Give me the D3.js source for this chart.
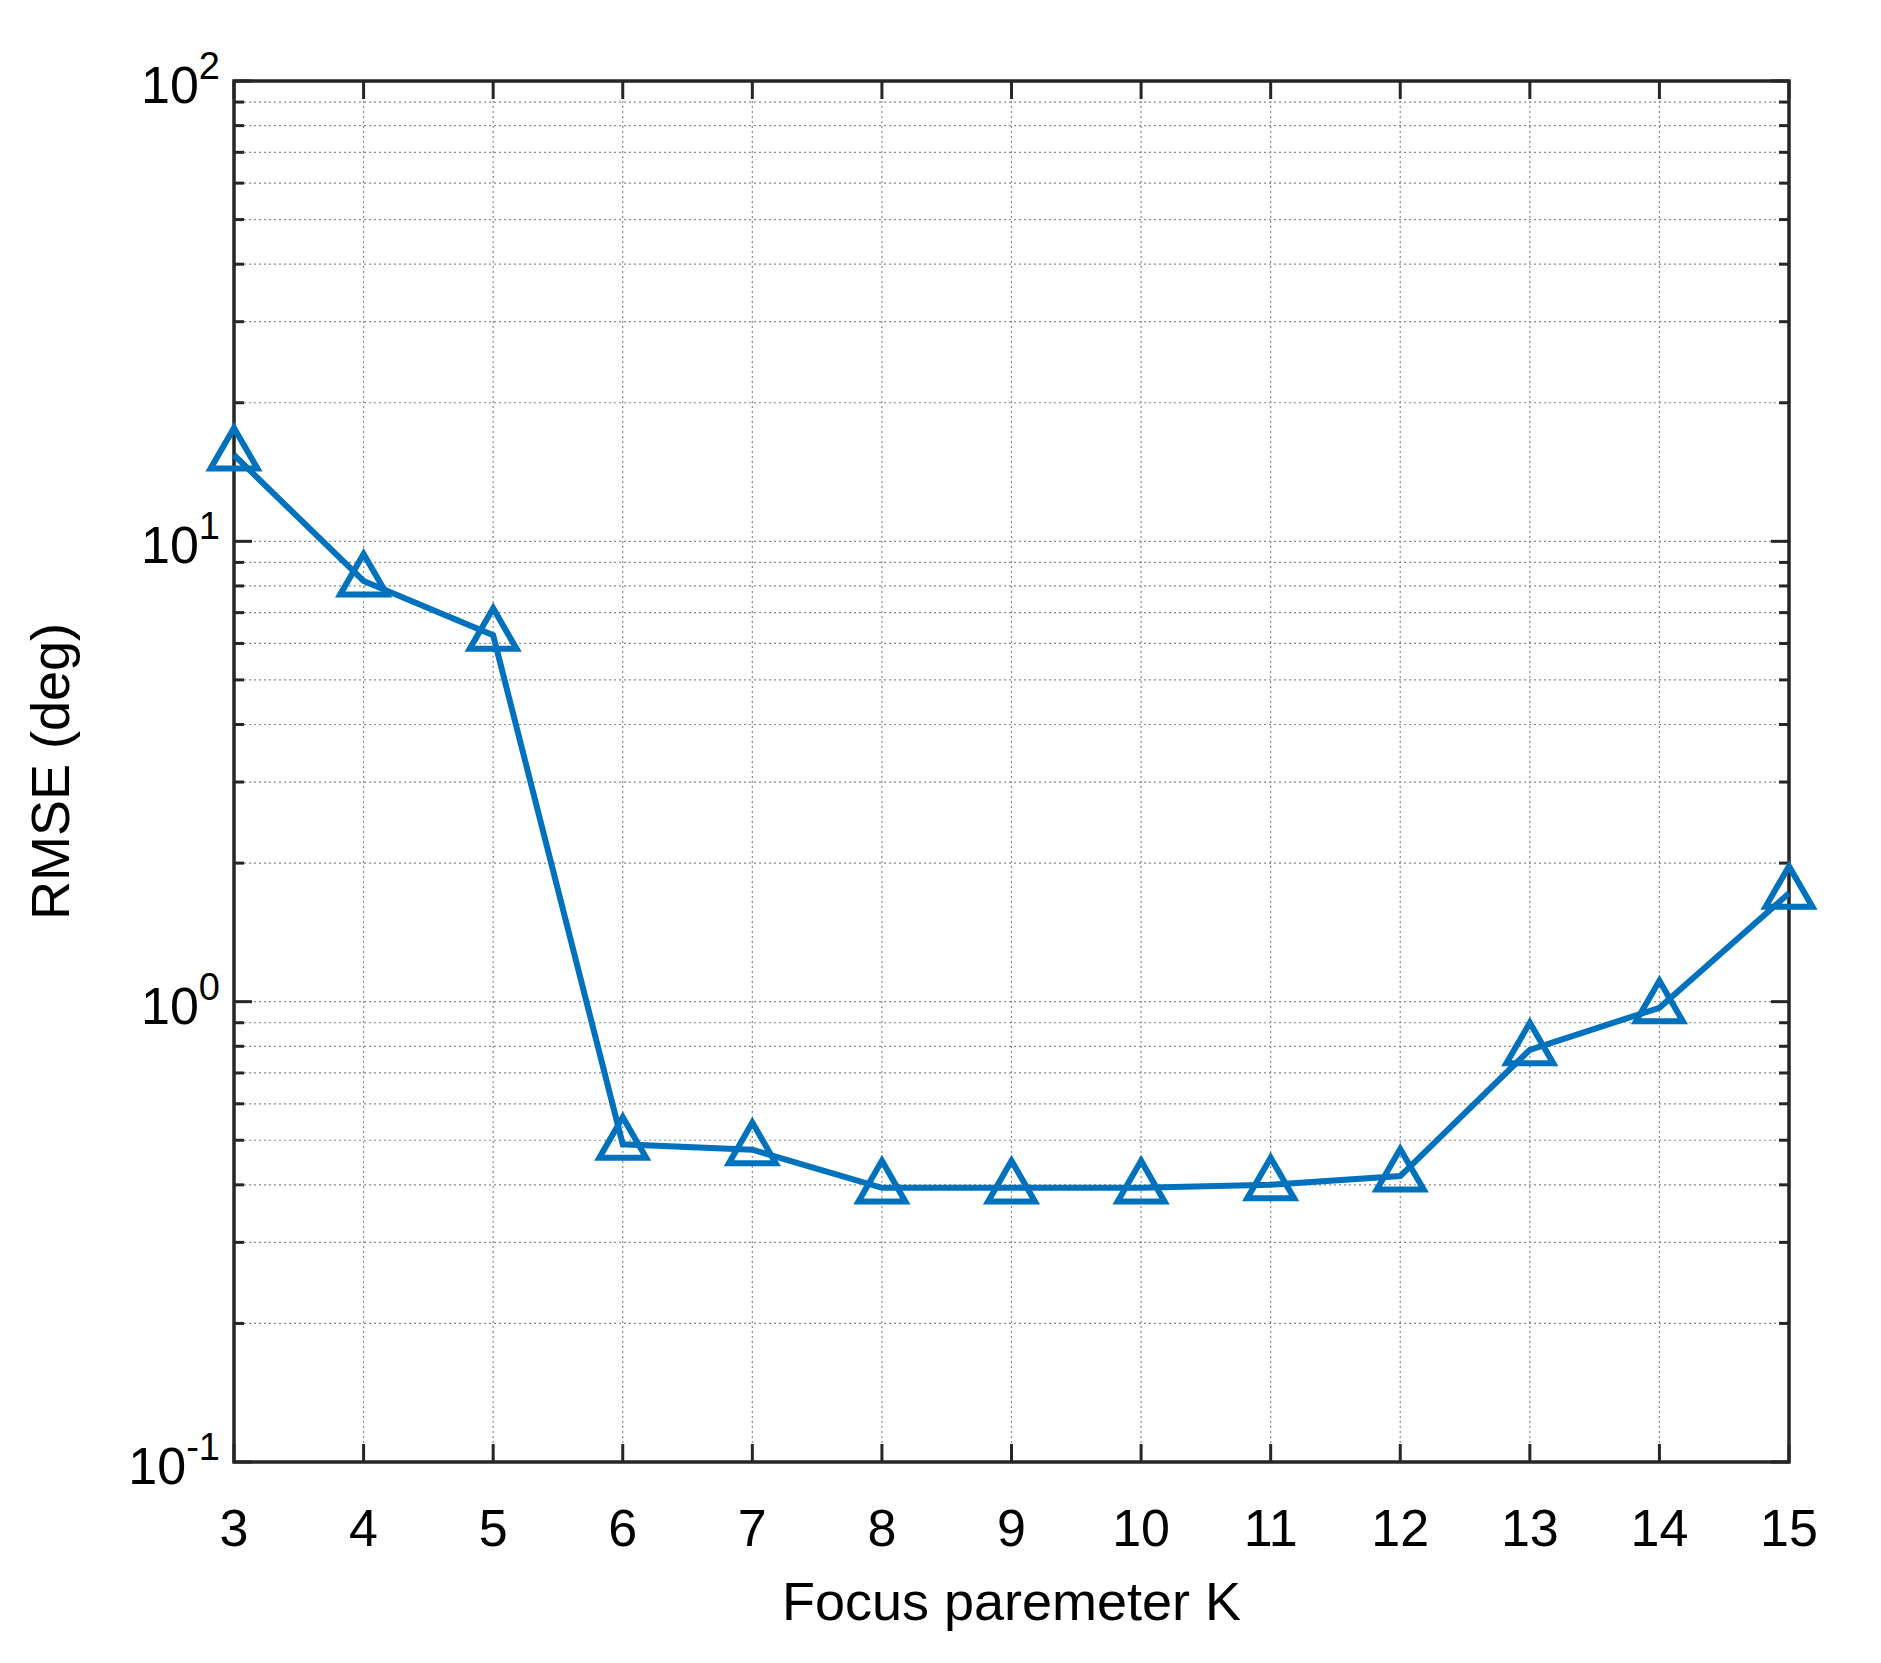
<!DOCTYPE html>
<html><head><meta charset="utf-8">
<script src="https://cdn.jsdelivr.net/npm/d3@7"></script>
<style>body{margin:0;background:#fff}text{font-family:"Liberation Sans",Arial,sans-serif}</style>
</head><body><div id="chart"></div>
<script>
const kValues = [3, 4, 5, 6, 7, 8, 9, 10, 11, 12, 13, 14, 15];
const rmseValues = [15.4, 8.2, 6.25, 0.49, 0.477, 0.394, 0.394, 0.394, 0.40, 0.418, 0.786, 0.97, 1.72];
const yDecades = [-1, 0, 1, 2];

const W = 1881, H = 1663;
const margin = { top: 81, right: 92, bottom: 201, left: 234 };
const width = W - margin.left - margin.right;
const height = H - margin.top - margin.bottom;

const svg = d3.select("#chart").append("svg").attr("width", W).attr("height", H);
const g = svg.append("g").attr("transform", `translate(${margin.left},${margin.top})`);

const x = d3.scaleLinear().domain([3, 15]).range([0, width]);
const y = d3.scaleLog().domain([0.1, 100]).range([height, 0]);

// minor values
const minor = [];
[0.1, 1, 10].forEach(b => { for (let m = 2; m <= 9; m++) minor.push(b * m); });

// grid
g.selectAll(".gx").data(kValues).enter().append("line")
    .attr("x1", d => x(d)).attr("x2", d => x(d)).attr("y1", 0).attr("y2", height)
    .attr("stroke", "#888").attr("stroke-width", 1.2).attr("stroke-dasharray", "2,3");
g.selectAll(".gy").data(yDecades.map(e => Math.pow(10, e)).concat(minor)).enter().append("line")
    .attr("x1", 0).attr("x2", width).attr("y1", d => y(d)).attr("y2", d => y(d))
    .attr("stroke", "#888").attr("stroke-width", 1.2).attr("stroke-dasharray", "2,3");

// ticks (inward, both sides)
const tk = 18, tkm = 10;
kValues.forEach(k => {
    g.append("line").attr("x1", x(k)).attr("x2", x(k)).attr("y1", height).attr("y2", height - tk).attr("stroke", "#262626").attr("stroke-width", 3);
    g.append("line").attr("x1", x(k)).attr("x2", x(k)).attr("y1", 0).attr("y2", tk).attr("stroke", "#262626").attr("stroke-width", 3);
});
yDecades.map(e => Math.pow(10, e)).forEach(v => {
    g.append("line").attr("x1", 0).attr("x2", tk).attr("y1", y(v)).attr("y2", y(v)).attr("stroke", "#262626").attr("stroke-width", 3);
    g.append("line").attr("x1", width).attr("x2", width - tk).attr("y1", y(v)).attr("y2", y(v)).attr("stroke", "#262626").attr("stroke-width", 3);
});
minor.forEach(v => {
    g.append("line").attr("x1", 0).attr("x2", tkm).attr("y1", y(v)).attr("y2", y(v)).attr("stroke", "#262626").attr("stroke-width", 3);
    g.append("line").attr("x1", width).attr("x2", width - tkm).attr("y1", y(v)).attr("y2", y(v)).attr("stroke", "#262626").attr("stroke-width", 3);
});

// box
g.append("rect").attr("width", width).attr("height", height).attr("fill", "none").attr("stroke", "#262626").attr("stroke-width", 3.5);

// tick labels
g.selectAll(".xl").data(kValues).enter().append("text")
    .attr("x", d => x(d)).attr("y", height + 84).attr("text-anchor", "middle")
    .attr("font-size", 52).attr("fill", "#000").text(d => d);
yDecades.forEach(e => {
    const t = g.append("text").attr("x", -14).attr("y", y(Math.pow(10, e)) + 22)
        .attr("text-anchor", "end").attr("font-size", 52).attr("fill", "#000");
    t.append("tspan").text("10");
    t.append("tspan").attr("dy", -24).attr("font-size", 38).text(e);
});

// axis labels
g.append("text").attr("x", width / 2).attr("y", height + 158).attr("text-anchor", "middle")
    .attr("font-size", 54).text("Focus paremeter K");
g.append("text").attr("transform", `translate(${-165},${height / 2}) rotate(-90)`)
    .attr("text-anchor", "middle").attr("font-size", 54).text("RMSE (deg)");

// line + markers
const pts = kValues.map((k, i) => [k, rmseValues[i]]);
g.append("path").datum(pts)
    .attr("d", d3.line().x(d => x(d[0])).y(d => y(d[1])))
    .attr("fill", "none").attr("stroke", "#0072BD").attr("stroke-width", 6);
const tri = d3.symbol().type(d3.symbolTriangle).size(950);
g.selectAll(".m").data(pts).enter().append("path")
    .attr("transform", d => `translate(${x(d[0])},${y(d[1])})`)
    .attr("d", tri()).attr("fill", "none").attr("stroke", "#0072BD").attr("stroke-width", 6);
</script></body></html>
